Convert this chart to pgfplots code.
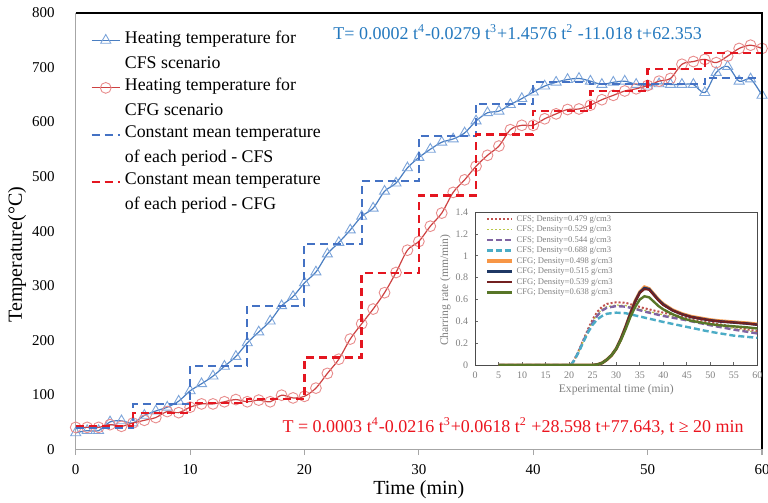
\documentclass[border=0pt]{standalone}
\usepackage{fontspec}
\setmainfont{Liberation Serif}
\usepackage{pgfplots}
\pgfplotsset{compat=1.18}

\definecolor{cfsline}{RGB}{74,126,193}
\definecolor{cfsmark}{RGB}{125,165,218}
\definecolor{cfgline}{RGB}{205,65,65}
\definecolor{cfgmark}{RGB}{232,140,140}
\definecolor{cfsstep}{RGB}{68,114,196}
\definecolor{cfgstep}{RGB}{228,22,32}
\definecolor{eqblue}{RGB}{35,120,190}
\definecolor{eqred}{RGB}{235,20,30}
\definecolor{axgray}{RGB}{166,166,166}
\definecolor{insetgray}{RGB}{128,128,128}
\definecolor{dA}{RGB}{192,80,77}
\definecolor{dB}{RGB}{185,200,70}
\definecolor{dC}{RGB}{128,100,162}
\definecolor{dD}{RGB}{75,172,198}
\definecolor{dE}{RGB}{247,150,70}
\definecolor{dF}{RGB}{31,56,100}
\definecolor{dG}{RGB}{115,32,32}
\definecolor{dH}{RGB}{88,118,40}

\begin{document}
\begin{tikzpicture}
\begin{axis}[
  name=main,
  width=343pt, height=218pt, scale only axis,
  xmin=0, xmax=60, ymin=0, ymax=800,
  xtick={0,10,...,60}, ytick={0,100,...,800},
  axis lines*=left,
  axis line style={draw=axgray, line width=0.6pt},
  tick align=outside, major tick length=3pt,
  xtick style={draw=axgray, line width=0.6pt},
  ytick style={draw=none},
  tick label style={font=\fontsize{7.5}{9}\selectfont},
  /pgf/number format/assume math mode=true,
  yticklabel style={xshift=-4pt},
  xticklabel style={yshift=-1pt},
  xlabel={Time (min)}, ylabel={Temperature(°C)},
  label style={font=\fontsize{10}{12}\selectfont},
  xlabel style={at={(axis description cs:0.5,-0.094)}, anchor=center},
  ylabel style={at={(axis description cs:-0.0856,0.446)}, anchor=center},
  clip mode=individual,
  legend cell align=left,
  legend image code/.code={\draw[mark repeat=2,mark phase=2,#1] plot coordinates {(0pt,5.35pt) (7pt,5.35pt) (14pt,5.35pt)};},
  legend style={draw=none, fill=none, font=\fontsize{8.9}{10.7}\selectfont,
    at={(axis description cs:0.021,0.96)}, anchor=north west,
    inner sep=0pt, row sep=3.6pt, column sep=2pt, nodes={inner sep=0pt, align=left}},
]
\addplot[cfsline, line width=0.6pt, smooth, mark=triangle, mark size=2.9pt,
  mark options={draw=cfsmark, line width=0.45pt}] coordinates {
  (0,30) (1,34) (2,34) (3,50) (4,52) (5,48) (6,62) (7,70) (8,77) (9,88)
  (10,107) (11,120) (12,134) (13,152) (14,170) (15,195) (16,215) (17,235) (18,263) (19,280)
  (20,305) (21,325) (22,358) (23,379) (24,402) (25,427) (26,442) (27,473) (28,488) (29,516)
  (30,535) (31,550) (32,563) (33,569) (34,580) (35,602) (36,617) (37,620) (38,632) (39,643)
  (40,655) (41,666) (42,673) (43,678) (44,680) (45,675) (46,669) (47,673) (48,675) (49,669)
  (50,666) (51,670) (52,669) (53,669) (54,669) (55,654) (56,691) (57,702) (58,675) (59,679)
  (60,649)
};
\addlegendentry{Heating temperature for\\[1.7pt]CFS scenario}
\addplot[cfgline, line width=0.6pt, smooth, mark=o, mark size=2.7pt,
  mark options={draw=cfgmark, line width=0.45pt}] coordinates {
  (0,40) (1,40) (2,40) (3,45) (4,42) (5,48) (6,53) (7,58) (8,69) (9,67)
  (10,77) (11,83) (12,83) (13,87) (14,91) (15,87) (16,90) (17,87) (18,99) (19,94)
  (20,97) (21,112) (22,139) (23,165) (24,202) (25,230) (26,257) (27,287) (28,324) (29,365)
  (30,381) (31,409) (32,433) (33,471) (34,494) (35,519) (36,539) (37,556) (38,586) (39,594)
  (40,594) (41,606) (42,615) (43,623) (44,624) (45,631) (46,641) (47,649) (48,657) (49,661)
  (50,667) (51,675) (52,680) (53,706) (54,711) (55,715) (56,709) (57,721) (58,735) (59,741)
  (60,735)
};
\addlegendentry{Heating temperature for\\[1.7pt]CFG scenario}
\addplot[cfsstep, line width=1pt, dash pattern=on 4pt off 2.5pt, const plot] coordinates {
  (0,38) (5,82) (10,153) (15,263) (20,377) (25,491) (30,574) (35,634)
  (40,673) (45,669) (50,669) (55,681) (60,681)
};
\addlegendentry{Constant mean temperature\\[1.7pt]of each period - CFS}
\addplot[cfgstep, line width=1.2pt, dash pattern=on 4pt off 2.5pt, const plot] coordinates {
  (0,42) (5,66) (10,85) (15,92) (20,168) (25,323) (30,465) (35,577)
  (40,620) (45,657) (50,697) (55,727) (60,727)
};
\addlegendentry{Constant mean temperature\\[1.7pt]of each period - CFG}
\node[anchor=west, inner sep=0pt, text=eqblue, font=\fontsize{9}{11}\selectfont] at (axis cs:22.5,765)
  {T= 0.0002 t\textsuperscript{4}-0.0279 t\textsuperscript{3}+1.4576 t\textsuperscript{2} -11.018 t+62.353};
\node[anchor=west, inner sep=0pt, text=eqred, font=\fontsize{9}{11}\selectfont] at (axis cs:18.05,42)
  {T = 0.0003 t\textsuperscript{4}-0.0216 t\textsuperscript{3}+0.0618 t\textsuperscript{2} +28.598 t+77.643, t ≥ 20 min};
\draw[black, line width=0.7pt] (rel axis cs:0,1) -- (rel axis cs:1,1) -- (rel axis cs:1,0);
\end{axis}

\begin{axis}[
  at={(main.south west)}, anchor=south west, xshift=199.65pt, yshift=42pt,
  width=141pt, height=76.5pt, scale only axis,
  xmin=0, xmax=60, ymin=0, ymax=1.4,
  xtick={0,5,...,60}, ytick={0,0.2,0.4,0.6,0.8,1,1.2,1.4},
  axis background/.style={fill=white},
  axis line style={draw=black!70, line width=0.5pt},
  tick pos=left, tick align=inside, major tick length=1.5pt,
  tick style={draw=black!60, line width=0.4pt},
  tick label style={font=\fontsize{5}{6}\selectfont, text=insetgray},
  /pgf/number format/assume math mode=true,
  xlabel={Experimental time (min)}, ylabel={Charring rate (mm/min)},
  label style={font=\fontsize{5.8}{7}\selectfont, text=insetgray},
  xlabel style={at={(axis description cs:0.5,-0.163)}, anchor=center},
  ylabel style={at={(axis description cs:-0.106,0.49)}, anchor=center},
  legend cell align=left,
  legend image code/.code={\draw[#1] (0pt,0pt) -- (12.5pt,0pt);},
  legend style={draw=none, fill=none, font=\fontsize{4.3}{5}\selectfont, text=insetgray,
    at={(axis description cs:0.035,0.985)}, anchor=north west,
    inner sep=0pt, row sep=0.95pt, column sep=1.5pt,
    nodes={inner sep=0pt, text height=3.2pt, text depth=1.1pt}},
]
\addplot[dA, line width=1pt, dash pattern=on 1pt off 1pt] coordinates {
  (5,0) (20.3,0) (21,0.04) (22,0.13) (23,0.23) (24,0.33) (25,0.42) (26,0.49) (27,0.535)
  (28,0.56) (30,0.575) (32,0.57) (34,0.545) (36,0.52) (38,0.50) (40,0.48) (45,0.435)
  (50,0.39) (55,0.35) (60,0.31)
};
\addlegendentry{CFS; Density=0.479 g/cm3}
\addplot[dB, line width=0.6pt, dash pattern=on 1pt off 1pt] coordinates {
  (5,0) (20.3,0) (21,0.04) (22,0.12) (23,0.22) (24,0.32) (25,0.40) (26,0.465) (27,0.51)
  (28,0.535) (30,0.55) (32,0.545) (34,0.525) (36,0.50) (38,0.48) (40,0.46) (45,0.42)
  (50,0.375) (55,0.335) (60,0.30)
};
\addlegendentry{CFS; Density=0.529 g/cm3}
\addplot[dC, line width=1.2pt, dash pattern=on 3pt off 1.5pt] coordinates {
  (5,0) (20.3,0) (21,0.04) (22,0.12) (23,0.22) (24,0.31) (25,0.39) (26,0.455) (27,0.50)
  (28,0.525) (30,0.54) (32,0.535) (34,0.515) (36,0.49) (38,0.47) (40,0.45) (45,0.41)
  (50,0.365) (55,0.325) (60,0.29)
};
\addlegendentry{CFS; Density=0.544 g/cm3}
\addplot[dD, line width=1.2pt, dash pattern=on 3pt off 1.5pt] coordinates {
  (5,0) (20.3,0) (21,0.04) (22,0.12) (23,0.21) (24,0.30) (25,0.37) (26,0.42) (27,0.45)
  (28,0.47) (30,0.48) (32,0.475) (34,0.455) (36,0.435) (38,0.415) (40,0.395) (45,0.35)
  (50,0.305) (55,0.27) (60,0.25)
};
\addlegendentry{CFS; Density=0.688 g/cm3}
\addplot[dE, line width=1.6pt] coordinates {
  (5,0) (25,0) (26,0.005) (27,0.02) (28,0.05) (29,0.09) (30,0.15) (31,0.24) (32,0.35)
  (33,0.47) (34,0.585) (35,0.67) (36,0.715) (37,0.70) (38,0.65) (39,0.60) (40,0.56)
  (42,0.505) (44,0.47) (46,0.445) (48,0.43) (50,0.415) (52,0.405) (55,0.395) (58,0.385) (60,0.375)
};
\addlegendentry{CFG; Density=0.498 g/cm3}
\addplot[dF, line width=1.3pt] coordinates {
  (5,0) (25,0) (26,0.005) (27,0.02) (28,0.05) (29,0.09) (30,0.15) (31,0.24) (32,0.35)
  (33,0.47) (34,0.58) (35,0.665) (36,0.705) (37,0.695) (38,0.645) (39,0.595) (40,0.555)
  (42,0.50) (44,0.465) (46,0.44) (48,0.425) (50,0.41) (52,0.40) (55,0.39) (58,0.38) (60,0.37)
};
\addlegendentry{CFG; Density=0.515 g/cm3}
\addplot[dG, line width=1pt] coordinates {
  (5,0) (25,0) (26,0.005) (27,0.02) (28,0.05) (29,0.09) (30,0.15) (31,0.24) (32,0.35)
  (33,0.47) (34,0.58) (35,0.66) (36,0.695) (37,0.69) (38,0.64) (39,0.59) (40,0.55)
  (42,0.50) (44,0.465) (46,0.44) (48,0.425) (50,0.41) (52,0.40) (55,0.39) (58,0.38) (60,0.37)
};
\addlegendentry{CFG; Density=0.539 g/cm3}
\addplot[dH, line width=1.2pt] coordinates {
  (5,0) (25,0) (26,0.005) (27,0.02) (28,0.05) (29,0.09) (30,0.15) (31,0.23) (32,0.33)
  (33,0.44) (34,0.53) (35,0.60) (36,0.63) (37,0.62) (38,0.58) (39,0.54) (40,0.51)
  (42,0.465) (44,0.43) (46,0.405) (48,0.39) (50,0.375) (52,0.365) (55,0.355) (58,0.345) (60,0.335)
};
\addlegendentry{CFG; Density=0.638 g/cm3}
\end{axis}
\pgfresetboundingbox
\path[use as bounding box] ([shift={(-37.85pt,-26.5pt)}]main.south west) rectangle ([shift={(3pt,6.5pt)}]main.north east);
\end{tikzpicture}
\end{document}
